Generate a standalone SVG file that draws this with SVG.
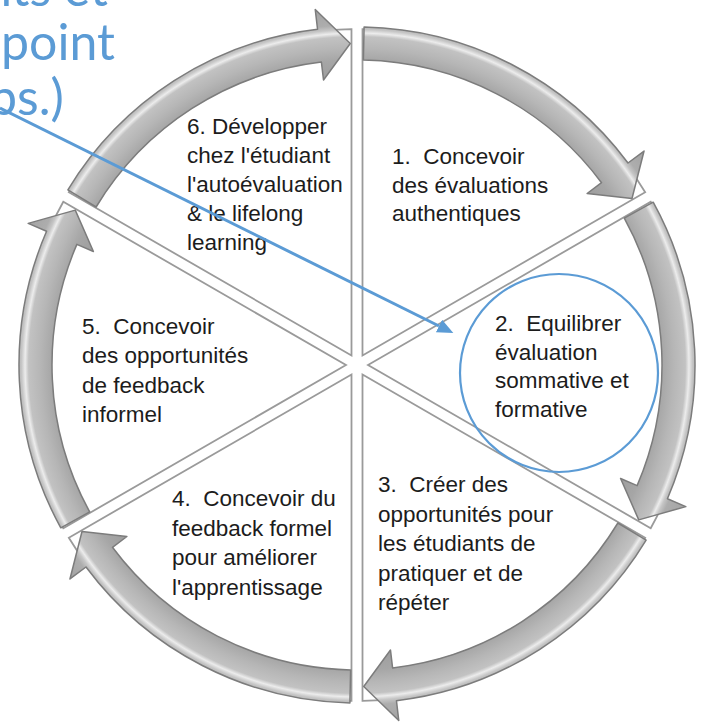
<svg xmlns="http://www.w3.org/2000/svg" xmlns:xlink="http://www.w3.org/1999/xlink" width="702" height="728" viewBox="0 0 702 728">
<style>
.wedge{fill:#ffffff;stroke:#9a9a9a;stroke-width:1.8}
.arr{fill:url(#ag);stroke:#7c7c7c;stroke-width:1.5;stroke-linejoin:round}
.lbl{font-family:"Liberation Sans",Arial,sans-serif;font-size:22.5px;fill:#1c1c1c;white-space:pre}
.note{font-family:Lato,"Open Sans",sans-serif;font-size:50px;fill:#5B9BD5}
.blue{fill:none;stroke:#5B9BD5;stroke-width:3}
</style>
<defs>
<radialGradient id="ag" gradientUnits="userSpaceOnUse" cx="357" cy="365" r="360">
<stop offset="0.79" stop-color="#9c9c9c"/>
<stop offset="0.847" stop-color="#a6a6a6"/>
<stop offset="0.88" stop-color="#b6b6b6"/>
<stop offset="0.912" stop-color="#c2c2c2"/>
<stop offset="0.922" stop-color="#ececec"/>
<stop offset="0.932" stop-color="#c6c6c6"/>
<stop offset="0.945" stop-color="#adadad"/>
<stop offset="1" stop-color="#a2a2a2"/>
</radialGradient>
<path id="wedge" class="wedge" d="M368 365 L650.7 201.8 A336 336 0 0 1 650.7 528.2 Z"/>
<path id="arrow" class="arr" d="M364.08 27.07 A338 338 0 0 1 628.0 163.0 L644.04 151.05 L632.0 198.45 L587.11 193.48 L601.54 182.72 A305 305 0 0 0 363.39 60.07 Z"/>
<marker id="ah" viewBox="0 0 16 14" refX="0" refY="7" markerWidth="16" markerHeight="14" markerUnits="userSpaceOnUse" orient="auto">
<path d="M0 0 L16 7 L0 14 Z" fill="#5B9BD5"/>
</marker>
</defs>
<rect width="702" height="728" fill="#ffffff"/>

<g id="wedges">
<use xlink:href="#wedge" href="#wedge" transform="rotate(-60 357 365)"/>
<use xlink:href="#wedge" href="#wedge"/>
<use xlink:href="#wedge" href="#wedge" transform="rotate(60 357 365)"/>
<use xlink:href="#wedge" href="#wedge" transform="rotate(120 357 365)"/>
<use xlink:href="#wedge" href="#wedge" transform="rotate(180 357 365)"/>
<use xlink:href="#wedge" href="#wedge" transform="rotate(240 357 365)"/>
</g>

<g id="cycle-arrows">
<use xlink:href="#arrow" href="#arrow"/>
<use xlink:href="#arrow" href="#arrow" transform="rotate(60 357 365)"/>
<use xlink:href="#arrow" href="#arrow" transform="rotate(120 357 365)"/>
<use xlink:href="#arrow" href="#arrow" transform="rotate(180 357 365)"/>
<use xlink:href="#arrow" href="#arrow" transform="rotate(240 357 365)"/>
<use xlink:href="#arrow" href="#arrow" transform="rotate(300 357 365)"/>
</g>

<g id="step1">
<text class="lbl" x="392" y="164">1.  Concevoir</text>
<text class="lbl" x="392" y="193">des évaluations</text>
<text class="lbl" x="392" y="221">authentiques</text>
</g>
<g id="step2">
<text class="lbl" x="495" y="331">2.  Equilibrer</text>
<text class="lbl" x="495" y="360">évaluation</text>
<text class="lbl" x="495" y="388">sommative et</text>
<text class="lbl" x="495" y="417">formative</text>
</g>
<g id="step3">
<text class="lbl" x="378" y="492">3.  Créer des</text>
<text class="lbl" x="378" y="522">opportunités pour</text>
<text class="lbl" x="378" y="551">les étudiants de</text>
<text class="lbl" x="378" y="581">pratiquer et de</text>
<text class="lbl" x="378" y="610">répéter</text>
</g>
<g id="step4">
<text class="lbl" x="172" y="506">4.  Concevoir du</text>
<text class="lbl" x="172" y="536">feedback formel</text>
<text class="lbl" x="172" y="565">pour améliorer</text>
<text class="lbl" x="172" y="595">l'apprentissage</text>
</g>
<g id="step5">
<text class="lbl" x="82" y="334">5.  Concevoir</text>
<text class="lbl" x="82" y="363">des opportunités</text>
<text class="lbl" x="82" y="393">de feedback</text>
<text class="lbl" x="82" y="422">informel</text>
</g>
<g id="step6">
<text class="lbl" x="187" y="134">6. Développer</text>
<text class="lbl" x="187" y="163">chez l'étudiant</text>
<text class="lbl" x="187" y="192">l'autoévaluation</text>
<text class="lbl" x="187" y="221">&amp; le lifelong</text>
<text class="lbl" x="187" y="250">learning</text>
</g>

<g id="note">
<text class="note" x="108" y="6" text-anchor="end">nts et</text>
<text class="note" x="1" y="60">point</text>
<text class="note" x="-11" y="115">ps.)</text>
</g>

<g id="connectors">
<line class="blue" x1="0" y1="108" x2="439" y2="326" marker-end="url(#ah)"/>
<circle cx="559" cy="373" r="99" fill="none" stroke="#5B9BD5" stroke-width="2.2"/>
</g>
</svg>
